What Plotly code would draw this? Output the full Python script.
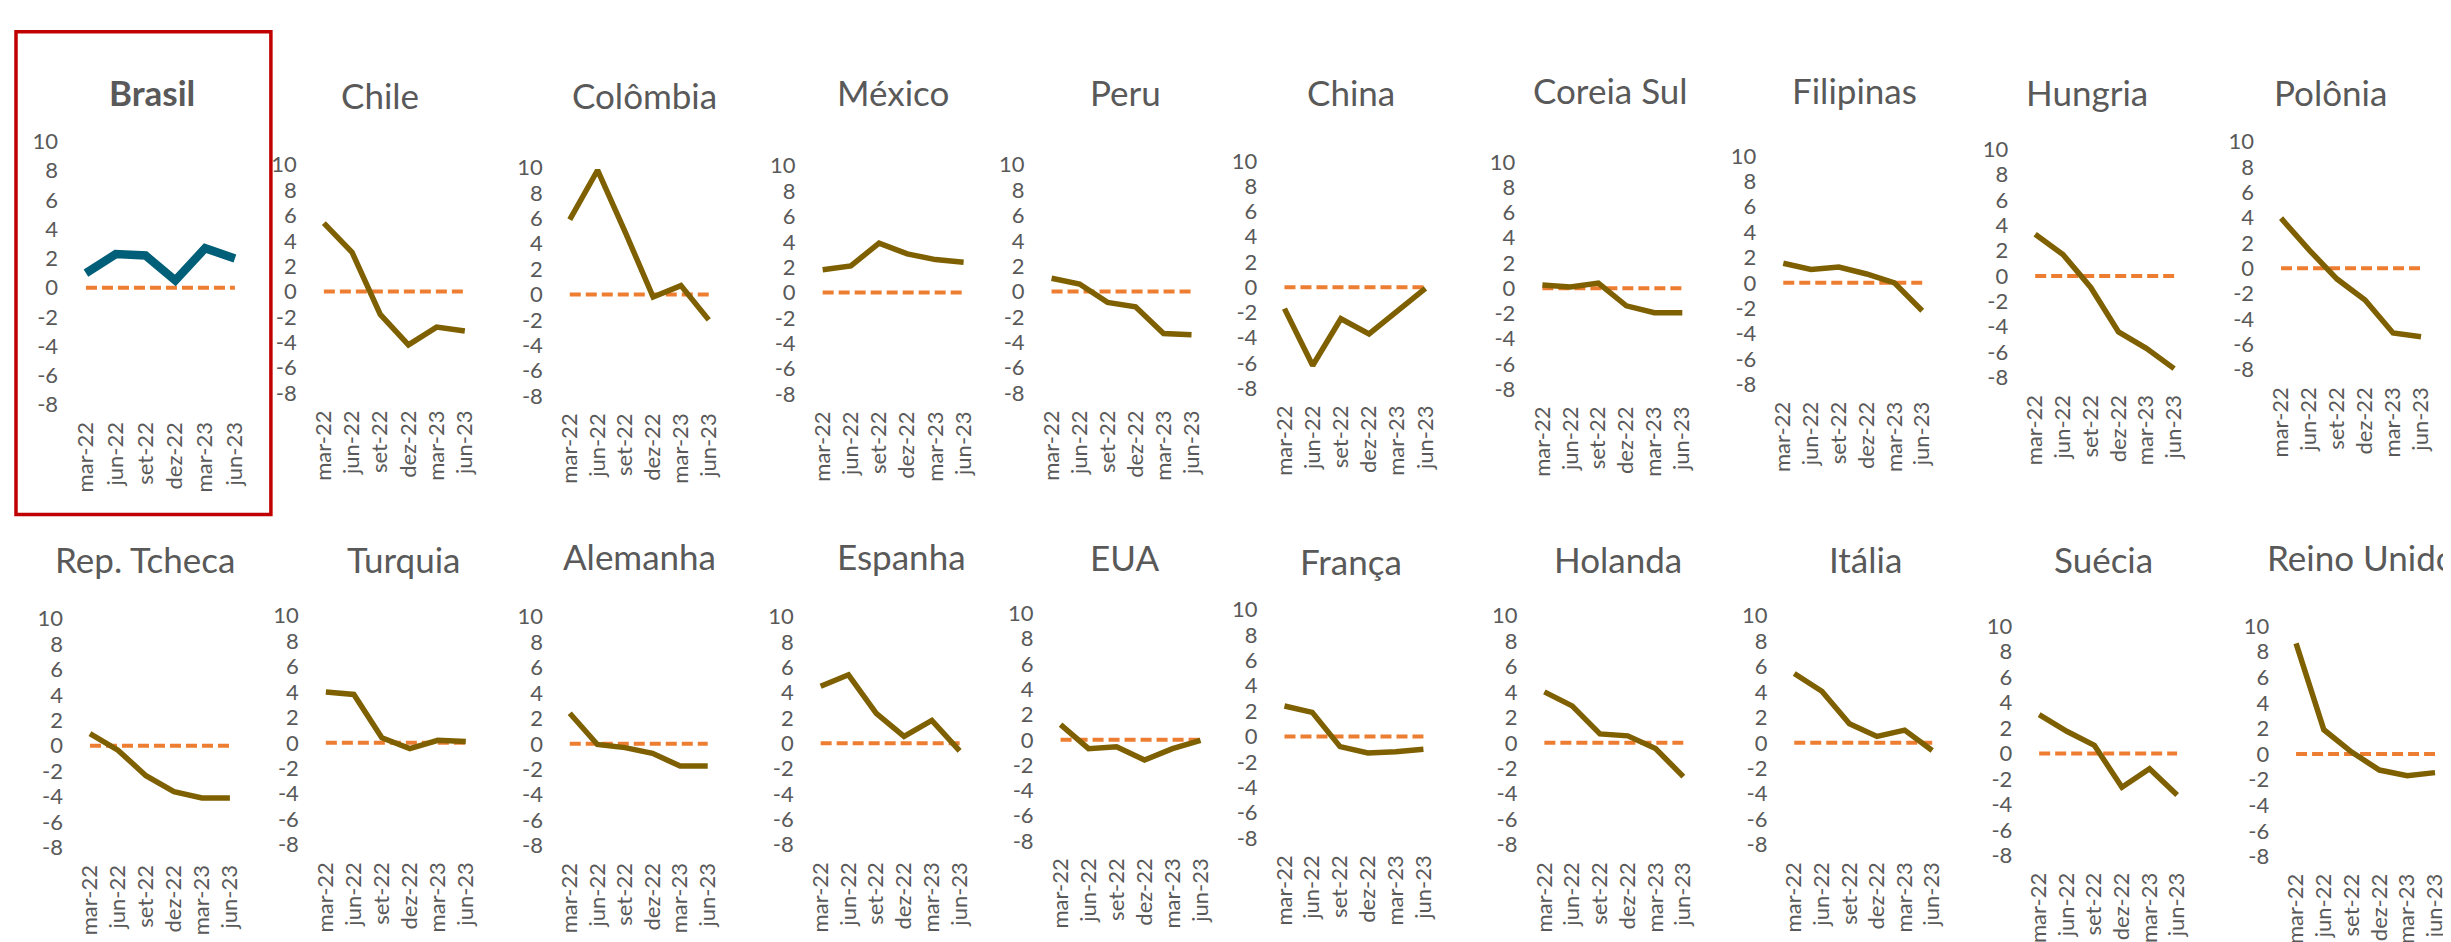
import plotly.graph_objects as go

W, H = 2451, 942

# ---------------- data ----------------
quarters = ["mar-22", "jun-22", "set-22", "dez-22", "mar-23", "jun-23"]
countries = ["Brasil", "Chile", "Colômbia", "México", "Peru", "China", "Coreia Sul",
             "Filipinas", "Hungria", "Polônia", "Rep. Tcheca", "Turquia", "Alemanha",
             "Espanha", "EUA", "França", "Holanda", "Itália", "Suécia", "Reino Unido"]

brasil = [1.0, 2.3, 2.2, 0.5, 2.7, 2.0]
chile = [5.4, 3.1, -1.8, -4.2, -2.8, -3.1]
colombia = [5.9, 9.8, 4.9, -0.2, 0.7, -2.0]
mexico = [1.8, 2.1, 3.9, 3.05, 2.6, 2.4]
peru = [1.05, 0.6, -0.85, -1.2, -3.3, -3.4]
china = [-1.7, -6.2, -2.5, -3.7, -1.9, -0.1]
coreia_sul = [0.25, 0.1, 0.4, -1.4, -1.95, -1.95]
filipinas = [1.55, 1.05, 1.25, 0.7, 0.0, -2.2]
hungria = [3.3, 1.7, -0.9, -4.4, -5.7, -7.3]
polonia = [3.95, 1.45, -0.85, -2.5, -5.1, -5.4]
rep_tcheca = [0.95, -0.35, -2.35, -3.6, -4.1, -4.1]
turquia = [4.0, 3.8, 0.4, -0.45, 0.2, 0.1]
alemanha = [2.4, -0.05, -0.3, -0.75, -1.75, -1.75]
espanha = [4.5, 5.4, 2.35, 0.55, 1.8, -0.6]
eua = [1.2, -0.7, -0.55, -1.6, -0.7, -0.05]
franca = [2.4, 1.9, -0.8, -1.3, -1.2, -1.0]
holanda = [4.0, 2.9, 0.7, 0.55, -0.45, -2.65]
italia = [5.45, 4.05, 1.5, 0.5, 1.0, -0.6]
suecia = [3.05, 1.75, 0.65, -2.65, -1.2, -3.25]
reino_unido = [8.65, 1.9, 0.15, -1.25, -1.7, -1.45]
reference_zero = [0, 0, 0, 0, 0, 0]

y_ticks = [-8, -6, -4, -2, 0, 2, 4, 6, 8, 10]

series = [brasil, chile, colombia, mexico, peru, china, coreia_sul, filipinas, hungria,
          polonia, rep_tcheca, turquia, alemanha, espanha, eua, franca, holanda, italia,
          suecia, reino_unido]

# ---------------- panel geometry (pixels) ----------------
# first point x, last point x, y of 10, y of -8, title centre x, title centre y
geom = [
    (77, 226, 123, 394, 143, 72),
    (315, 456, 147, 382, 371, 75),
    (561, 700, 150, 385, 636, 75),
    (814, 955, 148, 383, 884, 72),
    (1043, 1183, 147, 382, 1117, 72),
    (1276, 1417, 143, 377, 1343, 72),
    (1534, 1674, 144, 378, 1602, 70),
    (1775, 1914, 138, 373, 1846, 70),
    (2027, 2166, 131, 366, 2079, 72),
    (2273, 2413, 123, 358, 2322, 72),
    (81, 221, 614, 850, 136, 553),
    (317, 457, 611, 847, 395, 553),
    (561, 699, 612, 848, 631, 550),
    (812, 951, 612, 847, 893, 550),
    (1052, 1192, 609, 843, 1116, 551),
    (1276, 1415, 605, 840, 1343, 555),
    (1536, 1675, 611, 847, 1610, 553),
    (1786, 1924, 611, 847, 1857, 553),
    (2031, 2169, 622, 858, 2095, 553),
    (2288, 2427, 622, 859, 2353, 551),
]

FONT = "Lato, 'Noto Sans', sans-serif"
GREY = "#595959"
BROWN = "#7F6000"
TEAL = "#005F78"
ORANGE = "#ED7D31"

fig = go.Figure()
layout_axes = {}
annotations = []

for i, (name, vals, g) in enumerate(zip(countries, series, geom)):
    k = i + 1
    xa = "x" if k == 1 else f"x{k}"
    ya = "y" if k == 1 else f"y{k}"
    xf, xl, y10, ym8, tcx, tcy = g
    sp = (xl - xf) / 5.0
    x0 = (xf - sp / 2) / W
    x1 = (xl + sp / 2) / W
    ytop = 1 - y10 / H
    ybot = 1 - ym8 / H

    fig.add_trace(go.Scatter(
        x=quarters, y=reference_zero, xaxis=xa, yaxis=ya, mode="lines",
        line=dict(color=ORANGE, width=4, dash="11px,5px"),
        showlegend=False, hoverinfo="skip"))
    is_br = (name == "Brasil")
    fig.add_trace(go.Scatter(
        x=quarters, y=vals, xaxis=xa, yaxis=ya, mode="lines",
        line=dict(color=TEAL if is_br else BROWN, width=8.5 if is_br else 5.5),
        showlegend=False, name=name))

    xkey = "xaxis" if k == 1 else f"xaxis{k}"
    ykey = "yaxis" if k == 1 else f"yaxis{k}"
    layout_axes[xkey] = dict(
        domain=[x0, x1], anchor=ya, type="category", categoryorder="array",
        categoryarray=quarters, range=[-0.5, 5.5], showgrid=False, zeroline=False,
        tickmode="array", tickvals=quarters, ticktext=quarters,
        showline=False, ticks="", tickangle=-90, ticklabelstandoff=12,
        tickfont=dict(family=FONT, size=22, color=GREY), fixedrange=True)
    layout_axes[ykey] = dict(
        domain=[ybot, ytop], anchor=xa, range=[-8, 10], tickmode="array",
        tickvals=y_ticks, ticktext=[str(v) for v in y_ticks], showgrid=False,
        zeroline=False, showline=False, ticks="", ticklabelstandoff=12,
        tickfont=dict(family=FONT, size=22, color=GREY), fixedrange=True)

    annotations.append(dict(
        x=tcx / W, y=1 - tcy / H, xref="paper", yref="paper", showarrow=False,
        text=f"<b>{name}</b>" if is_br else name, xanchor="center", yanchor="middle",
        font=dict(family=FONT, size=35, color=GREY)))

fig.update_layout(
    width=W, height=H, margin=dict(l=0, r=0, t=0, b=0),
    paper_bgcolor="white", plot_bgcolor="white",
    annotations=annotations,
    shapes=[dict(type="rect", xref="paper", yref="paper",
                 x0=7 / W, x1=262 / W, y0=1 - 507 / H, y1=1 - 10 / H,
                 line=dict(color="#C00000", width=3.5), fillcolor="rgba(0,0,0,0)")],
    **layout_axes)

fig.write_html("out.html")
